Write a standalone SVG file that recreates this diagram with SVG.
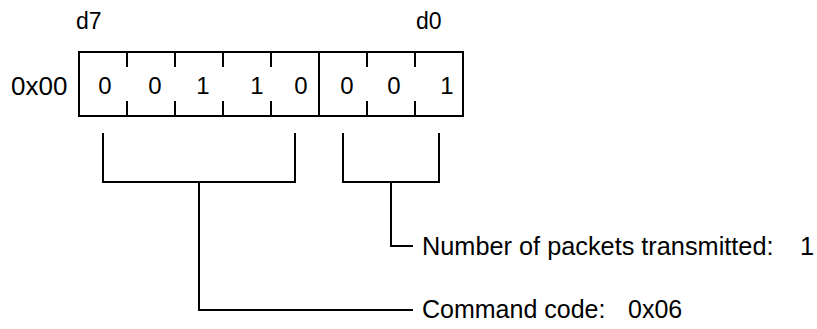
<svg xmlns="http://www.w3.org/2000/svg" width="817" height="329" viewBox="0 0 817 329">
<style>
.t{font-family:"Liberation Sans",Arial,sans-serif;fill:#000}
.ln{stroke:#000;stroke-width:2;fill:none}
</style>
<rect width="817" height="329" fill="#fff"/>
<g id="register">
<rect class="ln" x="79" y="52" width="384" height="64"/>
<path class="ln" d="M127 52v15M175 52v15M223 52v15M271 52v15M367 52v15M415 52v15M127 116v-15M175 116v-15M223 116v-15M271 116v-15M367 116v-15M415 116v-15M319 52v64"/>
<g class="t" font-size="24" text-anchor="middle">
<text x="105" y="94">0</text><text x="155" y="94">0</text><text x="203" y="94">1</text><text x="257" y="94">1</text>
<text x="301" y="94">0</text><text x="347" y="94">0</text><text x="394" y="94">0</text><text x="447" y="94">1</text>
</g>
</g>
<g id="labels">
<text class="t" x="11" y="95" font-size="26">0x00</text>
<text class="t" x="76" y="29" font-size="23">d7</text>
<text class="t" x="416" y="29" font-size="23">d0</text>
</g>
<g id="connectors">
<path class="ln" d="M103 133v49h192v-49M199 182v128h214"/>
<path class="ln" d="M343 133v49h96v-49M391 182v64h22"/>
</g>
<g id="number-label"><text class="t" x="422" y="255" font-size="25.3">Number of packets transmitted: <tspan x="800">1</tspan></text></g>
<g id="command-label"><text class="t" x="422" y="318" font-size="25">Command code: <tspan x="628">0x06</tspan></text></g>
</svg>
